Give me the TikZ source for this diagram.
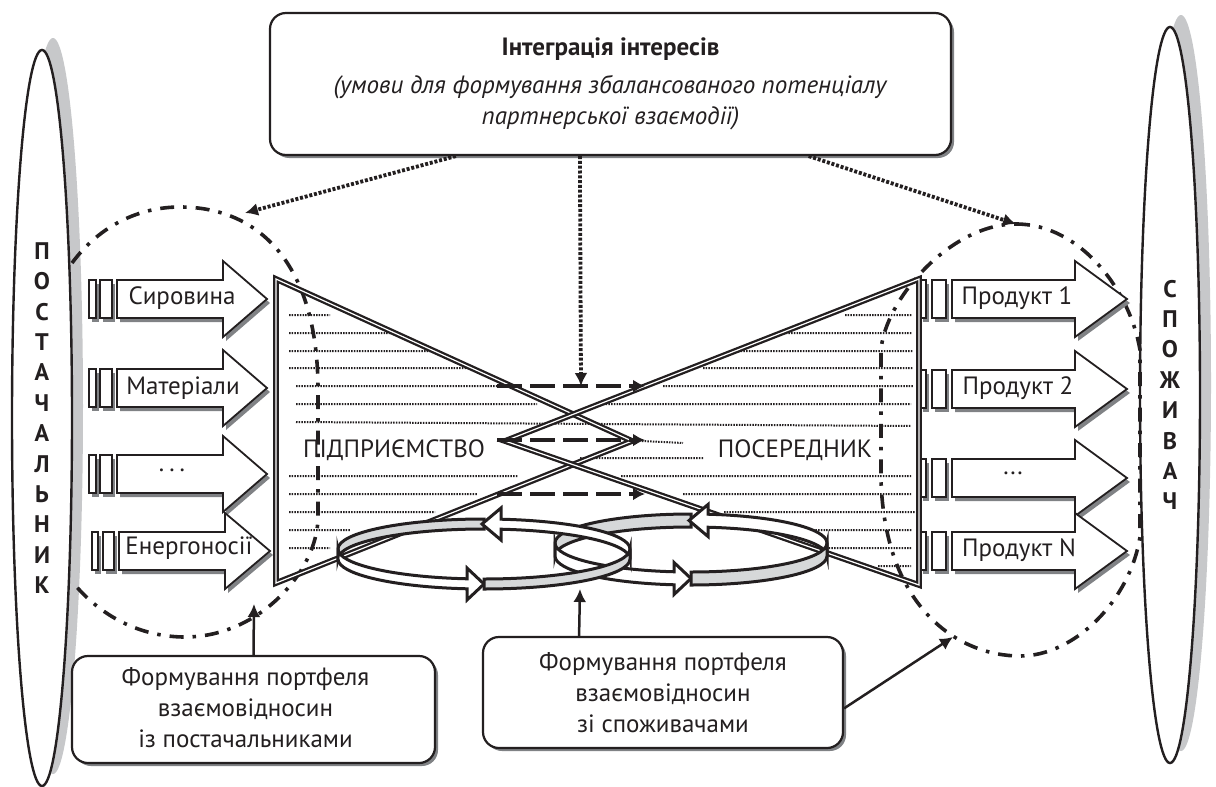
\documentclass[tikz,border=0pt]{standalone}
\usepackage{fontspec}
\setmainfont{PT Sans}
\usetikzlibrary{arrows.meta,shapes.geometric,shadows}
\definecolor{ink}{HTML}{231F20}
\definecolor{hardshade}{HTML}{808285}
\definecolor{softshade}{HTML}{C7C8CA}
\definecolor{bandgray}{HTML}{D6D8D9}
\tikzset{
  panel/.style={draw=ink,fill=white,line width=2.2pt,rounded corners=16pt,inner sep=0pt,align=center,text=ink,
    font=\fontsize{25}{31}\selectfont,
    drop shadow={shadow xshift=3pt,shadow yshift=-3pt,fill=hardshade,opacity=1}},
  side/.style={ellipse,draw=ink,fill=white,line width=2.4pt,minimum width=60pt,minimum height=736pt,inner sep=0pt,
    align=center,text=ink,font=\fontsize{24}{30.4}\selectfont\bfseries,
    drop shadow={shadow xshift=11pt,shadow yshift=12pt,fill=softshade,opacity=1}},
  flat/.style={draw=ink,fill=white,line width=1.8pt,
    drop shadow={shadow xshift=3pt,shadow yshift=-4pt,fill=hardshade,opacity=1}},
  label/.style={inner sep=0pt,text=ink,align=center,font=\fontsize{25}{31}\selectfont},
  hatch/.style={draw=ink,line width=2pt,dash pattern=on 1.5pt off 1.2pt},
  orbit/.style={draw=ink,line width=3.6pt,dash pattern=on 14pt off 9pt on 3.5pt off 9pt},
  dotarrow/.style={draw=ink,line width=3.8pt,dash pattern=on 3pt off 1.8pt,-{Latex[length=13pt,width=13pt]}},
  dasharrow/.style={draw=ink,line width=3.6pt,dash pattern=on 25pt off 8pt,-{Latex[length=12pt,width=13pt]}},
  plainarrow/.style={draw=ink,line width=2.5pt,-{Latex[length=13pt,width=13pt]}},
  twin/.style={draw=ink,double=white,line width=2.3pt,double distance=1.2pt,miter limit=6},
  bandline/.style={draw=ink,line width=3pt,line join=miter}
}
% stub: left x, centre y, right x
\newcommand{\stub}[3]{\path[flat] (#1,#2-19) rectangle (#3,#2+19);}
% row arrow: centre y, body left, head base, tip
\newcommand{\rowarrow}[4]{\path[flat] (#2,#1-19) -- (#3,#1-19) -- (#3,#1-38) -- (#4,#1) -- (#3,#1+38) -- (#3,#1+19) -- (#2,#1+19) -- cycle;}
% ring: centre x, centre y, x radius, y radius, band height
\newcommand{\ringband}[5]{
  \pgfmathsetmacro{\ringang}{acos(17/#3)}
  \pgfmathsetmacro{\ringrise}{#4*sin(\ringang)}
  \path[bandline,fill=bandgray] (#1-#3,#2) arc[start angle=180,end angle=270,x radius=#3,y radius=#4] -- (#1,#2-#4+#5)
    arc[start angle=270,end angle=180,x radius=#3,y radius=#4] -- cycle;
  \path[bandline,fill=white] (#1+#3,#2) arc[start angle=360,end angle={360-\ringang},x radius=#3,y radius=#4]
    -- (#1+17,#2-#4+#5/2-16) -- (#1-2,#2-#4+#5/2) -- (#1+17,#2-#4+#5/2+16) -- (#1+17,#2+#5-\ringrise)
    arc[start angle={360-\ringang},end angle=360,x radius=#3,y radius=#4] -- cycle;
  \path[bandline,fill=white] (#1-#3,#2) arc[start angle=180,end angle={180-\ringang},x radius=#3,y radius=#4]
    -- (#1-17,#2+#4+#5/2-16) -- (#1,#2+#4+#5/2) -- (#1-17,#2+#4+#5/2+16) -- (#1-17,#2+#5+\ringrise)
    arc[start angle={180-\ringang},end angle=180,x radius=#3,y radius=#4] -- cycle;
  \path[bandline,fill=bandgray] (#1,#2+#4) arc[start angle=90,end angle=0,x radius=#3,y radius=#4] -- (#1+#3,#2+#5)
    arc[start angle=0,end angle=90,x radius=#3,y radius=#4] -- cycle;
}
\begin{document}
\begin{tikzpicture}[x=1pt,y=-1pt]
        \useasboundingbox (0,0) rectangle (1216,787);
        % side ellipses
        \node[side] (supplier) at (42,418) {П\\О\\С\\Т\\А\\Ч\\А\\Л\\Ь\\Н\\И\\К};
        \node[side] (consumer) at (1170,395) {С\\П\\О\\Ж\\И\\В\\А\\Ч};
        % hatching of the enterprise field
        \path[hatch] (289,315)--(330,315) (845,315)--(912,315)
            (289,333)--(393,333) (783,333)--(912,333)
            (289,351)--(432,351) (738,351)--(913,351)
            (289,368)--(470,368) (703,368)--(913,368)
            (296,386)--(497,386) (663,386)--(913,386)
            (296,404)--(537,404) (603,404)--(911,404)
            (296,422)--(911,426)
            (642,441)--(683,443)
            (580,458)--(703,458)
            (289,476)--(518,476) (621,476)--(911,476)
            (289,494)--(477,494) (683,494)--(911,494)
            (289,512)--(435,512) (724,512)--(915,512)
            (289,530)--(351,530) (810,530)--(912,530)
            (289,548)--(330,548) (826,548)--(912,548)
            (878,566)--(911,566);
        % dash-dot contours
        \path[orbit] (72,263) .. controls (100,225) and (140,207) .. (180,207)
            .. controls (260,207) and (318,265) .. (318,390) -- (318,517)
            .. controls (318,570) and (260,637) .. (185,637)
            .. controls (145,637) and (105,620) .. (75,585);
        \path[orbit] (1016,224) .. controls (1080,224) and (1130,290) .. (1140,350) -- (1140,537)
            .. controls (1130,600) and (1075,656) .. (1020,656)
            .. controls (960,656) and (885,610) .. (881,480) -- (881,350)
            .. controls (885,300) and (950,224) .. (1016,224);
        % row arrows, left
        \stub{89}{299}{96} \stub{100}{299}{112} \rowarrow{299}{117}{223}{267}
        \stub{89}{388}{96} \stub{100}{388}{112} \rowarrow{388}{117}{223}{267}
        \stub{89}{474}{96} \stub{100}{474}{112} \rowarrow{474}{117}{223}{267}
        \stub{92}{551}{98} \stub{103}{551}{114} \rowarrow{551}{119}{225}{270}
        \node[label] (raw) at (182,298) {Сировина};
        \node[label] (material) at (183,388) {Матеріали};
        \node[label] (etc) at (172,470) {.\hspace{5pt}.\hspace{5pt}.};
        \node[label] (energy) at (189,548) {Енергоносії};
        % row arrows, right
        \stub{920}{299}{926} \stub{932}{299}{946} \rowarrow{299}{952}{1075}{1127}
        \stub{920}{389}{926} \stub{932}{389}{946} \rowarrow{389}{952}{1075}{1127}
        \stub{920}{478}{926} \stub{932}{478}{946} \rowarrow{478}{952}{1075}{1127}
        \stub{920}{551}{926} \stub{932}{551}{946} \rowarrow{551}{952}{1075}{1127}
        \node[label] (prodA) at (1017,298) {Продукт 1};
        \node[label] (prodB) at (1018,388) {Продукт 2};
        \node[label] (prodC) at (1013,473) {...};
        \node[label] (prodN) at (1019,550) {Продукт N};
        % crossed triangles
        \draw (276,279) coordinate (TL);
        \draw (276,583) coordinate (BL);
        \draw (919,279) coordinate (TR);
        \draw (919,585) coordinate (BR);
        \draw (632,441) coordinate (TipR);
        \draw (505,441) coordinate (TipL);
        \path[twin] (TL)--(TipR)--(BL)--cycle;
        \path[twin] (TR)--(TipL)--(BR)--cycle;
        % dashed flows
        \draw (497,386) coordinate (fa) (645,386) coordinate (fb);
        \draw (497,440) coordinate (fc) (645,440) coordinate (fd);
        \draw (497,494) coordinate (fe) (645,494) coordinate (ff);
        \path[dasharrow] (fa)--(fb);
        \path[dasharrow] (fc)--(fd);
        \path[dasharrow] (fe)--(ff);
        \node[label] (firm) at (394,450) {ПІДПРИЄМСТВО};
        \node[label] (broker) at (795,450) {ПОСЕРЕДНИК};
        % rings
        \ringband{691}{543}{136}{29}{13}
        \ringband{484}{549}{146}{30}{10}
        % panels
        \node[panel,minimum width=681pt,minimum height=142pt] (integ) at (610.5,84)
            {\textbf{Інтеграція інтересів}\\[7pt]\textit{(умови для формування збалансованого потенціалу}\\\textit{партнерської взаємодії)}};
        \node[panel,minimum width=363pt,minimum height=107pt] (boxL) at (253.5,709.5) {};
        \node[label] (boxLtext) at (245.5,708) {Формування портфеля\\взаємовідносин\\із постачальниками};
        \node[panel,minimum width=360pt,minimum height=111pt] (boxM) at (663,692.5)
            {Формування портфеля\\взаємовідносин\\зі споживачами};
        % connectors
        \draw (245,213) coordinate (orbitL) (1016,224) coordinate (orbitR) (581,386) coordinate (mid);
        \draw (254,604) coordinate (orbitB) (580,589) coordinate (ringB) (953,637) coordinate (orbitC);
        \path[dotarrow] (integ.205)--(orbitL);
        \path[dotarrow] (integ.247.8)--(mid);
        \path[dotarrow] (integ.340.5)--(orbitR);
        \path[plainarrow] (boxL.north)--(orbitB);
        \path[plainarrow] (boxM.146.2)--(ringB);
        \path[plainarrow] (boxM.-5)--(orbitC);
    \end{tikzpicture}
\end{document}
